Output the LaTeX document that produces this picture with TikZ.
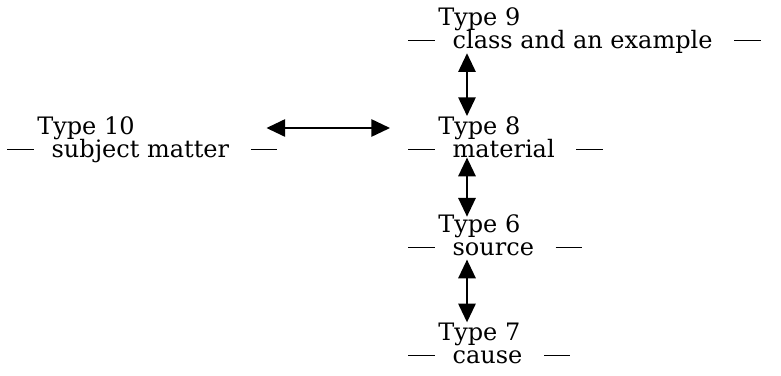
\documentclass[tikz,border=0pt]{standalone}
\usepackage{fontspec}
\setmainfont{DejaVu Serif}
\usetikzlibrary{%
  arrows.meta,%
  calc%
}
\newcommand{\typefont}{\fontsize{18}{17.2}\selectfont\lineskiplimit=-20pt\relax}
\tikzset{>={Triangle[length=14pt,width=13pt]},%
  typebox/.style={anchor=base west,align=left,inner sep=0pt,
    font=\typefont},
  link/.style={<->,line width=1.3pt}}
\newcommand{\sdash}{\rule[0.28em]{1.1em}{0.06em}}
\newcommand{\typeline}[2]{\hspace*{1.25em}Type #1\\%
  \sdash\hspace{0.75em}#2\hspace{0.9em}\sdash}

\begin{document}
\begin{tikzpicture}[x=0.75pt,y=-0.75pt]
    \useasboundingbox (0,0) rectangle (781,375);
    \node[typebox] (t9) at (408,48) {\typeline{9}{class and an example}};
    \node[typebox] (t8) at (408,157) {\typeline{8}{material}};
    \node[typebox] (t6) at (408,255) {\typeline{6}{source}};
    \node[typebox] (t7) at (408,363) {\typeline{7}{cause}};
    \node[typebox] (t10) at (7,157) {\typeline{10}{subject matter}};
    \coordinate (axis) at (467,0);
    \draw[link] (t9.south -| axis) -- (t8.north -| axis);
    \draw[link,shorten >=-2pt] (t8.south -| axis) -- (t6.north -| axis);
    \draw[link,shorten <=3pt] (t6.south -| axis) -- (t7.north -| axis);
    \draw[link] ($(t10.base east)+(-11,-29)$) -- ($(t8.base west)+(-18,-29)$);
  \end{tikzpicture}
\end{document}
